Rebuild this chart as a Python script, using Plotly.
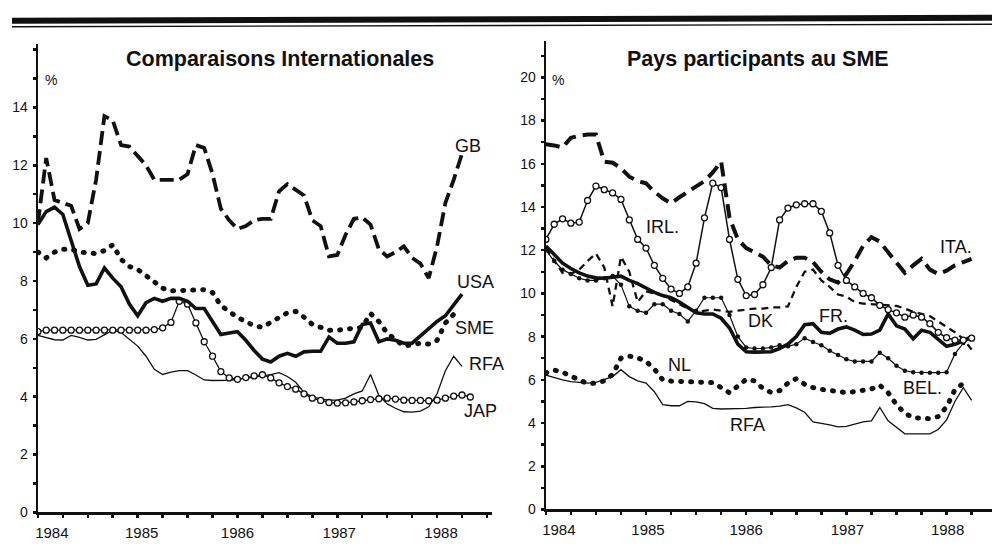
import plotly.graph_objects as go

# ---------------- data (monthly, starting January 1984) ----------------
START_YEAR = 1984
YEAR_LABELS = ["1984", "1985", "1986", "1987", "1988"]
Y_LEFT_LABELS = ["0", "2", "4", "6", "8", "10", "12", "14"]
Y_RIGHT_LABELS = ["0", "2", "4", "6", "8", "10", "12", "14", "16", "18", "20"]

TITLE_LEFT = "Comparaisons Internationales"
TITLE_RIGHT = "Pays participants au SME"

# Left panel: Comparaisons internationales
gb = [10.0, 12.25, 10.8, 10.7, 10.6, 9.8, 10.0, 11.5, 13.7, 13.55, 12.7, 12.65,
      12.3, 12.0, 11.5, 11.5, 11.5, 11.5, 11.7, 12.7, 12.6, 11.7, 10.5, 10.1,
      9.8, 9.9, 10.1, 10.15, 10.15, 11.1, 11.35, 11.15, 10.96, 10.1, 9.9, 8.85,
      8.9, 9.6, 10.15, 10.2, 9.95, 9.1, 8.85, 9.0, 9.2, 8.8, 8.6, 8.1,
      9.2, 10.7, 11.5, 12.4]
usa = [9.95, 10.4, 10.55, 10.3, 9.4, 8.5, 7.85, 7.9, 8.45, 8.1, 7.8, 7.2,
       6.8, 7.25, 7.4, 7.3, 7.4, 7.4, 7.3, 7.05, 7.05, 6.6, 6.15, 6.2,
       6.25, 5.95, 5.6, 5.3, 5.2, 5.4, 5.5, 5.4, 5.55, 5.57, 5.57, 6.06,
       5.85, 5.85, 5.9, 6.5, 6.55, 5.9, 6.0, 5.95, 5.85, 5.85, 6.1, 6.37,
       6.6, 6.8, 7.2, 7.55]
sme = [9.0, 8.8, 9.0, 9.1, 9.1, 9.0, 8.97, 8.95, 9.05, 9.25, 8.75, 8.5,
       8.4, 8.2, 8.0, 7.75, 7.66, 7.68, 7.7, 7.7, 7.7, 7.6, 7.15, 6.95,
       6.74, 6.6, 6.45, 6.4, 6.55, 6.74, 6.9, 6.95, 6.75, 6.5, 6.4, 6.3,
       6.3, 6.33, 6.35, 6.4, 6.88, 6.6, 6.2, 6.0, 5.75, 5.8, 5.85, 5.82,
       5.95, 6.55, 6.85, 6.85]
rfa_left = [6.12, 6.05, 5.97, 5.96, 6.12, 6.05, 5.96, 5.98, 6.15, 6.3, 6.22, 6.0,
            5.75, 5.4, 4.95, 4.77, 4.85, 4.9, 4.9, 4.75, 4.58, 4.56, 4.56, 4.57,
            4.6, 4.64, 4.68, 4.72, 4.76, 4.83, 4.7, 4.5, 4.15, 4.0, 3.92, 3.88,
            3.88, 3.95, 4.1, 4.2, 4.77, 4.05, 3.75, 3.6, 3.48, 3.47, 3.5, 3.65,
            4.1, 4.9, 5.4, 5.05]
jap = [6.25, 6.3, 6.3, 6.3, 6.3, 6.3, 6.3, 6.3, 6.3, 6.3, 6.3, 6.3,
       6.3, 6.3, 6.32, 6.38, 6.57, 7.3, 7.2, 6.55, 5.9, 5.4, 4.87, 4.65,
       4.6, 4.66, 4.72, 4.76, 4.65, 4.48, 4.35, 4.26, 4.1, 3.95, 3.87, 3.8,
       3.78, 3.79, 3.82, 3.86, 3.9, 3.93, 3.95, 3.92, 3.88, 3.87, 3.87, 3.86,
       3.88, 3.95, 4.02, 4.06, 3.99]

# Right panel: Pays participants au SME
ita = [16.9, 16.85, 16.75, 17.2, 17.3, 17.35, 17.35, 16.1, 16.05, 15.8, 15.4, 15.2,
       15.1, 14.7, 14.4, 14.17, 14.45, 14.7, 15.0, 15.2, 15.6, 16.1, 13.5, 12.5,
       12.1, 11.9, 11.7, 11.3, 11.2, 11.5, 11.65, 11.65, 11.45, 11.0, 10.65, 10.5,
       10.9, 11.5, 12.2, 12.6, 12.4, 11.9, 11.4, 10.95, 11.3, 11.6, 11.1, 10.9,
       11.05, 11.3, 11.45, 11.6]
irl = [12.5, 13.2, 13.45, 13.25, 13.3, 14.3, 14.97, 14.8, 14.65, 14.35, 13.4, 12.5,
       12.1, 11.3, 10.7, 10.2, 10.0, 10.3, 11.4, 13.5, 15.1, 14.9, 12.5, 10.65,
       9.9, 9.95, 10.4, 11.2, 13.4, 13.95, 14.1, 14.15, 14.15, 13.8, 12.8, 11.3,
       10.6, 10.3, 10.0, 9.8, 9.45, 9.25, 9.1, 8.9, 9.0, 8.9, 8.6, 8.2,
       7.95, 7.84, 7.84, 7.93]
dk = [12.1, 11.5, 10.95, 10.9, 11.1, 11.5, 11.85, 11.2, 9.4, 11.7, 11.0, 9.6,
      10.1, 10.0, 9.9, 9.7, 9.5, 9.3, 9.15, 9.2, 9.25, 9.2, 9.15, 9.2,
      9.25, 9.3, 9.3, 9.35, 9.35, 9.4, 10.3, 11.0, 11.1, 10.6, 10.3, 9.95,
      9.85, 9.6, 9.53, 9.5, 9.48, 9.45, 9.42, 9.3, 9.15, 9.05, 8.95, 8.7,
      8.45, 8.2, 7.9, 7.4]
fr = [12.2, 11.8, 11.4, 11.15, 10.95, 10.8, 10.72, 10.7, 10.75, 10.8, 10.6, 10.45,
      10.25, 10.05, 9.9, 9.8, 9.6, 9.35, 9.1, 9.05, 9.05, 8.85, 8.4, 7.65,
      7.3, 7.28, 7.28, 7.3, 7.45, 7.65, 8.0, 8.55, 8.6, 8.2, 8.15, 8.35,
      8.45, 8.3, 8.1, 8.12, 8.3, 9.05, 8.5, 8.35, 7.9, 8.3, 8.2, 7.9,
      7.55, 7.65, 7.8, 8.0]
bel = [12.0, 11.5, 11.1, 10.9, 10.7, 10.6, 10.6, 10.7, 10.8, 10.4, 9.4, 9.2,
       9.1, 9.5, 9.5, 9.2, 9.05, 8.7, 9.2, 9.8, 9.8, 9.8, 9.0, 8.0,
       7.5, 7.45, 7.45, 7.5, 7.6, 7.55, 7.65, 7.93, 7.75, 7.6, 7.35, 7.15,
       6.95, 6.85, 6.85, 6.85, 7.25, 7.0, 6.65, 6.42, 6.35, 6.33, 6.33, 6.33,
       6.35, 7.2, 7.7, 7.95]
nl = [6.32, 6.45, 6.35, 6.15, 6.0, 5.82, 5.85, 5.95, 6.25, 7.0, 7.1, 7.02,
      6.85, 6.5, 6.0, 5.94, 5.92, 5.9, 5.9, 5.88, 5.87, 5.64, 5.4, 5.71,
      6.02, 5.95, 5.6, 5.42, 5.5, 5.85, 6.05, 5.8, 5.64, 5.56, 5.5, 5.45,
      5.41, 5.45, 5.5, 5.58, 5.75, 5.4, 4.85, 4.45, 4.25, 4.2, 4.2, 4.3,
      4.75, 5.55, 5.84]
rfa_right = [6.22, 6.1, 6.0, 5.92, 5.87, 5.85, 5.88, 6.0, 6.15, 6.47, 6.15, 5.95,
             5.85, 5.45, 4.85, 4.8, 4.8, 5.0, 4.98, 4.9, 4.68, 4.65, 4.65, 4.65,
             4.68, 4.72, 4.72, 4.75, 4.78, 4.85, 4.7, 4.5, 4.05, 4.0, 3.92, 3.82,
             3.85, 3.95, 4.05, 4.1, 4.72, 4.1, 3.8, 3.5, 3.5, 3.5, 3.5, 3.7,
             4.15, 5.0, 5.64, 5.05]


def months(vals):
    return [START_YEAR + i / 12 for i in range(len(vals))]


# ---------------- page geometry ----------------
# The page body keeps its default 8 px margin, so the figure is sized to make
# the whole page exactly 1000 x 556 (no scrolling, no rescaling).
PAGE_W, PAGE_H = 1000, 556
OFF = 8
FW, FH = PAGE_W - 2 * OFF, PAGE_H - 2 * OFF


def px(x):
    return min(1.0, max(0.0, (x - OFF) / FW))


def py(y):
    return min(1.0, max(0.0, 1 - (y - OFF) / FH))


# ---------------- figure ----------------
BLACK = "#111111"
fig = go.Figure()

DOTS = "1px,9px"  # rendered as round dots (see post_script)


def add(vals, axis, width, dash="solid", marker=None):
    xa, ya = ("x", "y") if axis == 1 else ("x2", "y2")
    kw = dict(x=months(vals), y=vals, xaxis=xa, yaxis=ya, hoverinfo="skip",
              line=dict(color=BLACK, width=width, dash=dash))
    if marker:
        kw["mode"] = "lines+markers"
        kw["marker"] = marker
    else:
        kw["mode"] = "lines"
    fig.add_trace(go.Scatter(**kw))


open_circle = dict(symbol="circle", size=6, color="white",
                   line=dict(color=BLACK, width=1.3))
small_dot = dict(symbol="circle", size=4.5, color=BLACK)

# left panel
add(rfa_left, 1, 1.3)
add(jap, 1, 1.3, marker=open_circle)
add(sme, 1, 5, dash=DOTS)
add(usa, 1, 3.6)
add(gb, 1, 3.8, dash="14px,6px")

# right panel
add(rfa_right, 2, 1.3)
add(nl, 2, 5, dash=DOTS)
add(bel, 2, 1.2, marker=small_dot)
add(dk, 2, 2.3, dash="7px,5px")
add(fr, 2, 3.6)
add(irl, 2, 1.5, marker=open_circle)
add(ita, 2, 4, dash="14px,7px")

TICKFONT_X = dict(family="Liberation Sans Narrow, Arial Narrow, Liberation Sans, Arial",
                  size=15, color=BLACK)
TICKFONT_Y = dict(family="Liberation Sans Narrow, Arial Narrow, Liberation Sans, Arial",
                  size=14, color=BLACK)
years = [int(t) for t in YEAR_LABELS]


def xaxis_cfg(x0_px, x1_px, px_per_year, offsets):
    x1_eff = min(x1_px, OFF + FW)
    return dict(
        domain=[px(x0_px), px(x1_eff)],
        range=[START_YEAR, START_YEAR + (x1_eff - x0_px) / px_per_year],
        showline=True, linecolor=BLACK, linewidth=2.2, mirror=False,
        showgrid=False, zeroline=False,
        tickmode="array", tickvals=[y + o for y, o in zip(years, offsets)],
        ticktext=YEAR_LABELS, ticks="", tickfont=TICKFONT_X,
        ticklabelstandoff=5,
        minor=dict(tickmode="linear", tick0=START_YEAR, dtick=0.25,
                   ticks="outside", ticklen=3, tickwidth=2.5, tickcolor=BLACK,
                   showgrid=False),
        fixedrange=True,
    )


def yaxis_cfg(bottom_px, top_px, px_per_unit, labels, anchor):
    return dict(
        domain=[py(bottom_px), py(top_px)],
        range=[0, (bottom_px - top_px) / px_per_unit],
        showline=True, linecolor=BLACK, linewidth=2.2,
        showgrid=False, zeroline=False,
        tickmode="array", tickvals=[int(v) for v in labels], ticktext=labels,
        ticks="outside", ticklen=3, tickwidth=2.5, tickcolor=BLACK,
        tickfont=TICKFONT_Y, ticklabelstandoff=2,
        minor=dict(tickmode="linear", tick0=0, dtick=1, ticks="outside",
                   ticklen=3, tickwidth=2.5, tickcolor=BLACK, showgrid=False),
        anchor=anchor, fixedrange=True,
    )


LABEL_FONT = dict(family="Liberation Sans, Arial, Helvetica", size=18, color=BLACK)
TITLE_FONT = dict(family="Liberation Sans, Arial, Helvetica", size=21.5, color=BLACK)
PCT_FONT = dict(family="Liberation Sans Narrow, Liberation Sans, Arial", size=14, color=BLACK)


def ann(text, x_px, y_px, font, xanchor="center"):
    return dict(text=text, x=px(x_px), y=py(y_px), xref="paper", yref="paper",
                showarrow=False, xanchor=xanchor, yanchor="middle", font=font)


annotations = [
    ann("<b>" + TITLE_LEFT + "</b>", 277, 60, TITLE_FONT),
    ann("<b>" + TITLE_RIGHT + "</b>", 757, 60, TITLE_FONT),
    ann("%", 47, 81, PCT_FONT),
    ann("%", 556, 81, PCT_FONT),
    ann("GB", 466, 148, LABEL_FONT),
    ann("USA", 473, 286, LABEL_FONT),
    ann("SME", 472, 333, LABEL_FONT),
    ann("RFA", 484, 369, LABEL_FONT),
    ann("JAP", 478, 417, LABEL_FONT),
    ann("IRL.", 661, 230, LABEL_FONT),
    ann("ITA.", 956, 251, LABEL_FONT),
    ann("DK", 760, 326, LABEL_FONT),
    ann("FR.", 833, 321, LABEL_FONT),
    ann("NL", 678, 370, LABEL_FONT),
    ann("BEL.", 922, 394, LABEL_FONT),
    ann("RFA", 747, 431, LABEL_FONT),
]

shapes = [
    dict(type="line", xref="paper", yref="paper", x0=px(7), x1=px(1000),
         y0=py(21), y1=py(18), line=dict(color=BLACK, width=6)),
    dict(type="line", xref="paper", yref="paper", x0=px(7), x1=px(1000),
         y0=py(27), y1=py(24.5), line=dict(color=BLACK, width=1.4)),
]

fig.update_layout(
    width=FW, height=FH,
    margin=dict(l=0, r=0, t=0, b=0, pad=0),
    paper_bgcolor="white", plot_bgcolor="white",
    showlegend=False,
    xaxis=xaxis_cfg(34, 490, 100.2, [0.14, 0.04, 0.0, 0.02, 0.04]),
    yaxis=yaxis_cfg(520, 45, 29.36, Y_LEFT_LABELS, "x"),
    xaxis2=dict(xaxis_cfg(544, 1000, 100.6, [0.13, 0.02, 0.0, 0.01, 0.01]), anchor="y2"),
    yaxis2=yaxis_cfg(517, 41, 21.93, Y_RIGHT_LABELS, "x2"),
    annotations=annotations,
    shapes=shapes,
)
fig.update_layout(xaxis=dict(anchor="y"))

post = """
var gd = document.getElementById('{plot_id}');
function fixDots(){
  document.querySelectorAll('path.js-line').forEach(function(p){
    var d = (p.style.strokeDasharray || '').replace(/\\s/g, '');
    if (d.indexOf('1px,9px') === 0) { p.style.strokeLinecap = 'round'; }
  });
}
fixDots();
setTimeout(fixDots, 30);
if (gd && gd.on) { gd.on('plotly_afterplot', fixDots); }
"""

fig.write_html("out.html", config={"displayModeBar": False, "staticPlot": True},
               post_script=post)
